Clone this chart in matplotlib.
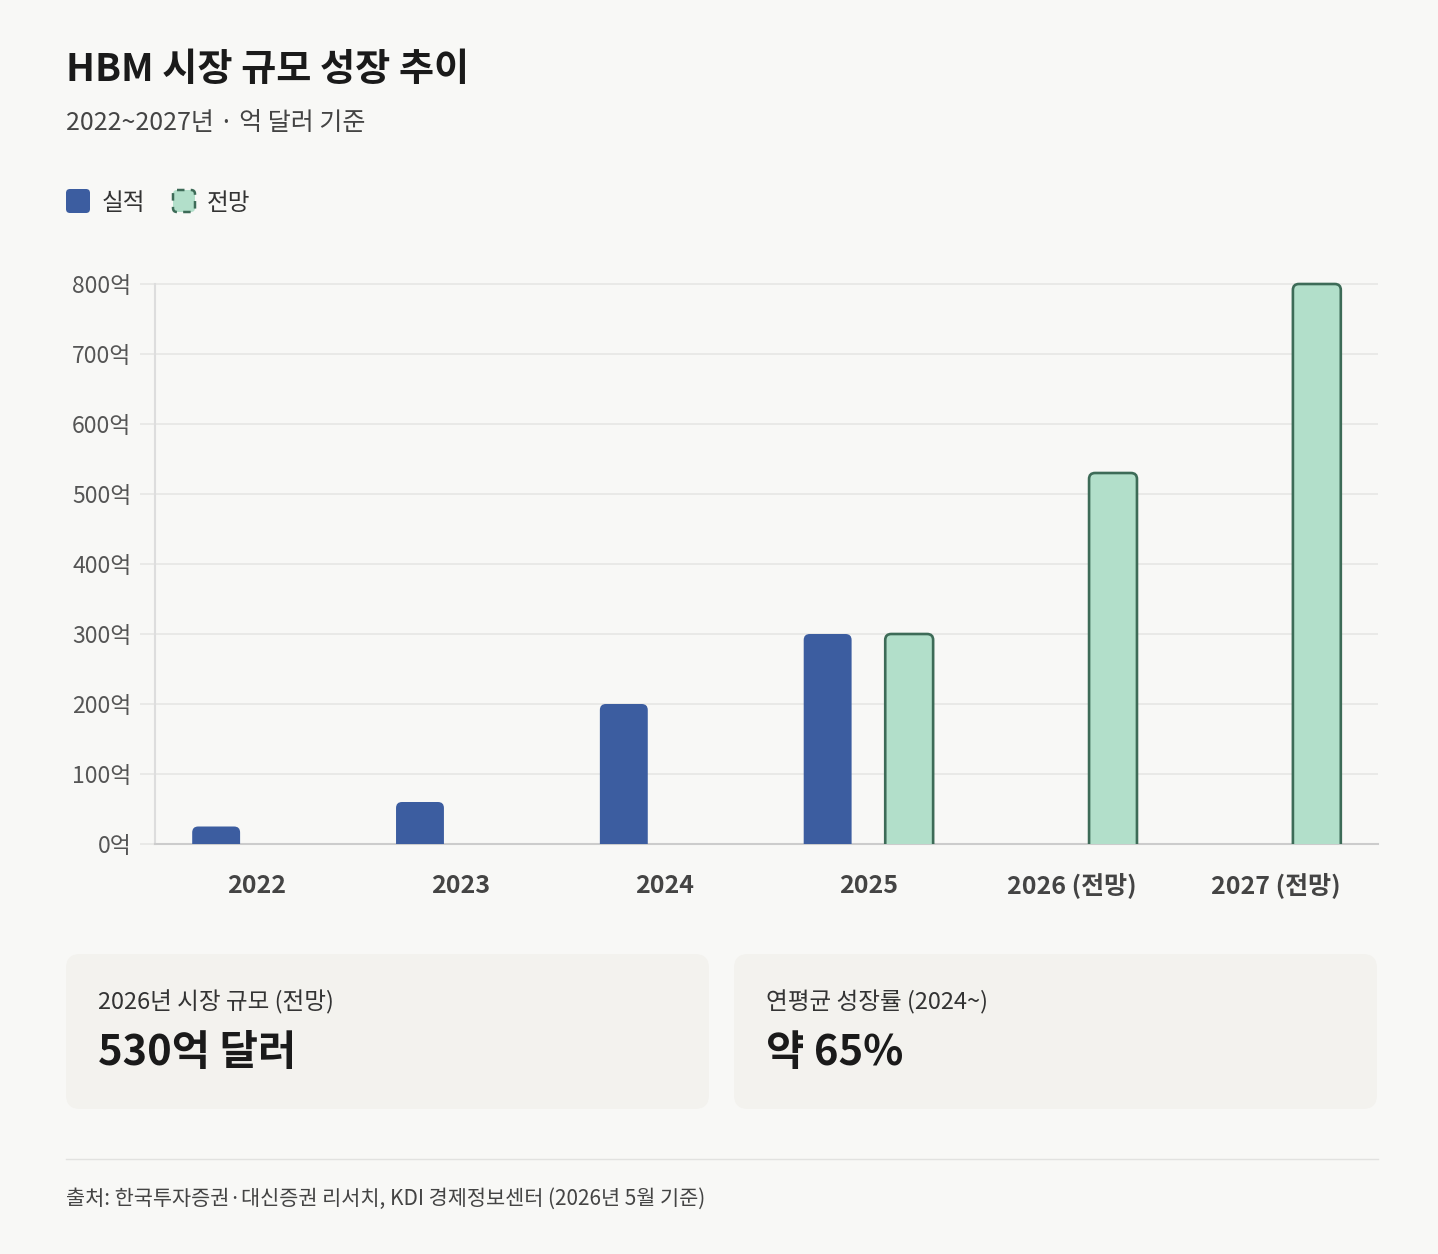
import numpy as np
import matplotlib
matplotlib.use("Agg")
import matplotlib.pyplot as plt
from matplotlib.patches import FancyBboxPatch

plt.rcParams['font.family'] = ['Noto Sans CJK KR', 'DejaVu Sans']

# data
years = ['2022', '2023', '2024', '2025', '2026 (전망)', '2027 (전망)']
actual = [25, 60, 200, 300, np.nan, np.nan]
forecast = [np.nan, np.nan, np.nan, 300, 530, 800]
yticks = [0, 100, 200, 300, 400, 500, 600, 700, 800]

title = 'HBM 시장 규모 성장 추이'
subtitle = '2022~2027년 · 억 달러 기준'
cards = [('2026년 시장 규모 (전망)', '530억 달러'), ('연평균 성장률 (2024~)', '약 65%')]
source = '출처: 한국투자증권·대신증권 리서치, KDI 경제정보센터 (2026년 5월 기준)'

BG = '#f8f8f6'
CARD = '#f3f2ee'
BLUE = '#3c5da0'
GREEN = '#b2dfca'
GREEN_EDGE = '#3d6b57'

W, H = 1438, 1254
fig = plt.figure(figsize=(W / 100, H / 100), dpi=100, facecolor=BG)

# background layer in pixel coords
bg = fig.add_axes([0, 0, 1, 1], zorder=0)
bg.set_xlim(0, W)
bg.set_ylim(H, 0)
bg.axis('off')
bg.patch.set_alpha(0)

bg.text(66, 70, title, fontsize=27.5, fontweight='bold', color='#1a1a1a', va='center')
bg.text(66, 123, subtitle, fontsize=18, color='#444444', va='center')

# legend
bg.add_patch(FancyBboxPatch((66, 189), 24, 24, boxstyle='round,pad=0,rounding_size=4',
                            fc=BLUE, ec='none'))
bg.text(102, 203, '실적', fontsize=17, color='#333333', va='center')
bg.add_patch(FancyBboxPatch((173, 190), 22, 22, boxstyle='round,pad=0,rounding_size=4',
                            fc=GREEN, ec=GREEN_EDGE, lw=1.8, ls=(0, (3, 2.5))))
bg.text(207, 203, '전망', fontsize=17, color='#333333', va='center')

# cards
for i, (lab, val) in enumerate(cards):
    x0 = 66 + i * 668
    bg.add_patch(FancyBboxPatch((x0, 954), 643, 155, boxstyle='round,pad=0,rounding_size=14',
                                fc=CARD, ec='none'))
    bg.text(x0 + 32, 1002, lab, fontsize=17, color='#333333', va='center')
    bg.text(x0 + 32, 1053, val, fontsize=30, fontweight='bold', color='#1a1a1a', va='center')

bg.plot([66, 1378], [1159, 1159], color='#e2e2e0', lw=1)
bg.text(66, 1199, source, fontsize=15, color='#444444', va='center')

# main chart
top_px = 277
ax = fig.add_axes([155 / W, 1 - 844 / H, (1378 - 155) / W, (844 - top_px) / H], zorder=1)
ax.patch.set_alpha(0)
ymax = 800 * (844 - top_px) / (844 - 284)
ax.set_ylim(0, ymax)
ax.set_xlim(-0.5, len(years) - 0.5)

x = np.arange(len(years))
off, bw = 0.2, 0.235
pad = 20
xu = (1378 - 155) / len(years)         # px per x unit
yu = (844 - top_px) / ymax              # px per y unit
r = 6 / xu
asp = xu / yu

def draw_bars(xs, vals, fc, ec, lw):
    bars = ax.bar(xs, np.array(vals) + pad, bw, bottom=-pad, color=fc)
    for b in bars:
        h = b.get_height()
        if np.isfinite(h):
            ax.add_patch(FancyBboxPatch(b.get_xy(), b.get_width(), h,
                                        boxstyle=f'round,pad=0,rounding_size={r}',
                                        mutation_aspect=asp, fc=fc, ec=ec, lw=lw, zorder=3))
        b.remove()

draw_bars(x - off, actual, BLUE, 'none', 0)
draw_bars(x + off, forecast, GREEN, GREEN_EDGE, 1.9)

ax.set_yticks(yticks)
ax.set_yticklabels([f'{v}억' for v in yticks])
ax.set_xticks(x)
ax.set_xticklabels(years)
ax.grid(axis='y', color='#e6e6e4', lw=1.2)
ax.set_axisbelow(True)
ax.tick_params(axis='y', length=11, color='#e6e6e4', width=1.2, pad=6,
               labelsize=16.5, labelcolor='#555555')
ax.tick_params(axis='x', length=0, pad=35, labelsize=18, labelcolor='#444444')
for t in ax.get_xticklabels():
    t.set_fontweight('bold')
    t.set_va('baseline')
for s in ['top', 'right']:
    ax.spines[s].set_visible(False)
ax.spines['left'].set_bounds(0, 800)
ax.spines['left'].set_color('#dddddd')
ax.spines['left'].set_linewidth(1.5)
ax.spines['bottom'].set_color('#cccccc')
ax.spines['bottom'].set_linewidth(1.5)

fig.savefig('out.png', dpi=100, facecolor=BG)
